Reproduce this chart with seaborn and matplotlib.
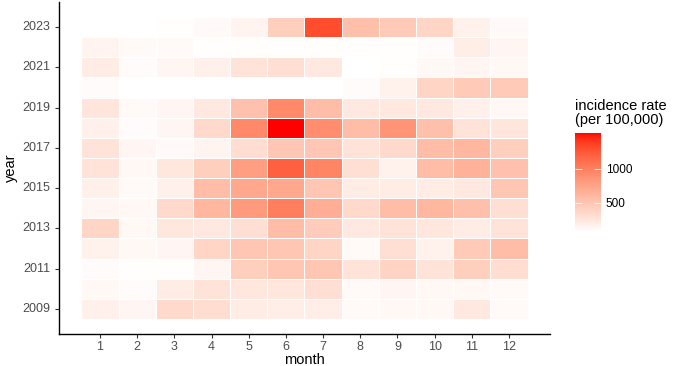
import numpy as np
import pandas as pd
import matplotlib
matplotlib.use("Agg")
import matplotlib.pyplot as plt
import seaborn as sns
from matplotlib.colors import ListedColormap

# monthly incidence rate (per 100,000), one list per year, months 1..12
months = list(range(1, 13))
years = list(range(2009, 2024))

rate_2009 = [170, 125, 345, 315, 200, 185, 185, 95, 110, 110, 230, 95]
rate_2010 = [110, 80, 200, 270, 240, 240, 300, 95, 125, 110, 110, 95]
rate_2011 = [80, 65, 65, 125, 420, 495, 495, 270, 390, 270, 420, 315]
rate_2012 = [155, 110, 125, 375, 495, 495, 375, 95, 300, 155, 465, 570]
rate_2013 = [375, 110, 240, 230, 300, 570, 450, 230, 270, 240, 200, 270]
rate_2014 = [125, 110, 345, 610, 820, 1010, 670, 345, 570, 610, 540, 300]
rate_2015 = [170, 95, 170, 570, 715, 715, 495, 200, 200, 200, 230, 495]
rate_2016 = [270, 110, 240, 420, 790, 1205, 965, 300, 155, 570, 640, 525]
rate_2017 = [270, 125, 95, 140, 315, 495, 495, 270, 345, 570, 610, 420]
rate_2018 = [170, 80, 125, 345, 940, 1530, 910, 570, 865, 540, 270, 255]
rate_2019 = [255, 95, 125, 230, 525, 940, 570, 230, 230, 230, 170, 110]
rate_2020 = [80, 50, 50, 50, 50, 50, 50, 80, 155, 375, 465, 465]
rate_2021 = [200, 80, 125, 170, 270, 300, 230, 50, 65, 110, 125, 110]
rate_2022 = [140, 95, 95, 65, 65, 65, 65, 65, 65, 80, 185, 125]
rate_2023 = [50, 50, 65, 95, 140, 420, 1310, 540, 465, 375, 155, 95]

rates = [rate_2009, rate_2010, rate_2011, rate_2012, rate_2013, rate_2014,
         rate_2015, rate_2016, rate_2017, rate_2018, rate_2019, rate_2020,
         rate_2021, rate_2022, rate_2023]

colorbar_ticks = [500, 1000]
year_ticks = [2009, 2011, 2013, 2015, 2017, 2019, 2021, 2023]

plt.rcParams['font.family'] = ['Liberation Sans', 'DejaVu Sans']


#white -> red gradient interpolated in Lab space (like ggplot's gradient)
def lab_gradient(n=256):
    wt = np.array([0.95047, 1.0, 1.08883])
    M = np.array([[0.4124, 0.3576, 0.1805],
                  [0.2126, 0.7152, 0.0722],
                  [0.0193, 0.1192, 0.9505]])
    Minv = np.linalg.inv(M)

    def to_lab(rgb):
        lin = np.where(rgb <= 0.04045, rgb / 12.92, ((rgb + 0.055) / 1.055) ** 2.4)
        xyz = M @ lin / wt
        f = np.where(xyz > 0.008856, np.cbrt(xyz), 7.787 * xyz + 16 / 116)
        return np.array([116 * f[1] - 16, 500 * (f[0] - f[1]), 200 * (f[1] - f[2])])

    lo = to_lab(np.array([1.0, 1.0, 1.0]))
    hi = to_lab(np.array([1.0, 0.0, 0.0]))
    out = []
    for t in np.linspace(0, 1, n):
        L, a, b = lo + (hi - lo) * t
        fy = (L + 16) / 116
        f = np.array([fy + a / 500, fy, fy - b / 200])
        xyz = np.where(f ** 3 > 0.008856, f ** 3, (f - 16 / 116) / 7.787) * wt
        lin = np.clip(Minv @ xyz, 0, 1)
        rgb = np.where(lin <= 0.0031308, 12.92 * lin, 1.055 * lin ** (1 / 2.4) - 0.055)
        out.append(np.clip(rgb, 0, 1))
    return ListedColormap(out)


# long table -> year x month grid, newest year on top
rows = []
for y, vals in zip(years, rates):
    for m, v in zip(months, vals):
        rows.append({"year": y, "month": m, "rate": v})
df = pd.DataFrame(rows)
grid = df.pivot(index="year", columns="month", values="rate").sort_index(ascending=False)

fig = plt.figure(figsize=(6.85, 3.66), dpi=100)
ax = fig.add_axes([59 / 685, 1 - 334 / 366, 491 / 685, 332 / 366])
cax = fig.add_axes([575 / 685, 1 - 233 / 366, 26 / 685, 100 / 366])

sns.heatmap(grid, ax=ax, cbar_ax=cax, cmap=lab_gradient(),
            vmin=df["rate"].min(), vmax=df["rate"].max(),
            linewidths=0.5, linecolor="white",
            cbar_kws={"ticks": colorbar_ticks})

# ggplot-like expanded limits around the tiles
ax.set_xlim(-0.6, 12.6)
ax.set_ylim(15.75, -0.75)

ax.set_xticks(np.arange(len(months)) + 0.5)
ax.set_xticklabels(months, rotation=0)
ypos = [list(grid.index).index(y) + 0.5 for y in year_ticks]
ax.set_yticks(ypos)
ax.set_yticklabels(year_ticks, rotation=0)
ax.tick_params(labelsize=9, labelcolor="#4d4d4d", color="#333333", length=3, width=0.8)
ax.tick_params(axis="x", pad=2)

for side in ["top", "right"]:
    ax.spines[side].set_visible(False)
for side in ["left", "bottom"]:
    ax.spines[side].set_visible(True)
    ax.spines[side].set_color("black")
    ax.spines[side].set_linewidth(1)

ax.set_xlabel("month", fontsize=10.5, labelpad=0)
ax.set_ylabel("year", fontsize=10.5, labelpad=3)

# colorbar styling
cbar = ax.collections[0].colorbar
cbar.outline.set_visible(False)
cax.yaxis.set_ticks_position("both")
cax.tick_params(color="white", length=5, width=0.6, direction="in",
                labelsize=8.5, labelcolor="black", labelleft=False, labelright=True)
cax.text(0, 1.06, "incidence rate\n(per 100,000)", transform=cax.transAxes,
         ha="left", va="bottom", fontsize=10.5, linespacing=1.0)

fig.savefig("out.png", dpi=100)
